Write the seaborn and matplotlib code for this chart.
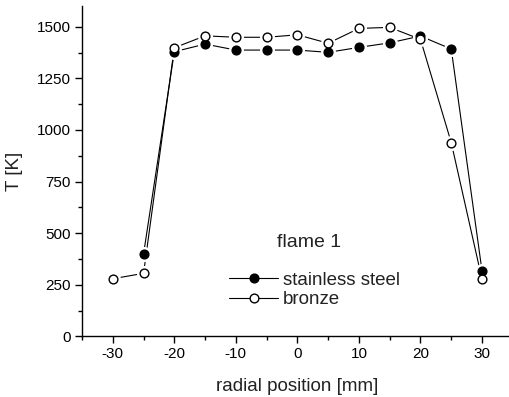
import numpy as np
import pandas as pd
import matplotlib
matplotlib.use("Agg")
import matplotlib.pyplot as plt
from matplotlib.lines import Line2D
from matplotlib.ticker import MultipleLocator
import seaborn as sns

# Radial temperature profiles, flame 1
steel_pos = [-25, -20, -15, -10, -5, 0, 5, 10, 15, 20, 25, 30]
steel_T = [399, 1379, 1416, 1387, 1387, 1387, 1376, 1400, 1422, 1455, 1392, 316]
bronze_pos = [-30, -25, -20, -15, -10, -5, 0, 5, 10, 15, 20, 25, 30]
bronze_T = [279, 305, 1398, 1456, 1449, 1449, 1461, 1420, 1492, 1497, 1439, 938, 276]
series_names = ["stainless steel", "bronze"]
x_ticks = [-30, -20, -10, 0, 10, 20, 30]
y_ticks = [0, 250, 500, 750, 1000, 1250, 1500]

sns.set_theme(style="ticks")
plt.rcParams["font.family"] = ["Liberation Sans", "DejaVu Sans"]
plt.rcParams["axes.unicode_minus"] = False

steel = pd.DataFrame({"x": steel_pos, "T": steel_T})
bronze = pd.DataFrame({"x": bronze_pos, "T": bronze_T})

fig = plt.figure(figsize=(5.10, 3.97), dpi=100)
ax = fig.add_axes([0.1608, 0.1529, 0.8447, 0.8317])

lw = 0.8
ms = 6.3
for df in (steel, bronze):
    sns.lineplot(data=df, x="x", y="T", ax=ax, color="black", lw=lw,
                 sort=False, estimator=None, zorder=2)
# white halos leave small gaps between connecting lines and symbols
for df in (steel, bronze):
    ax.plot(df["x"], df["T"], ls="none", marker="o", ms=ms + 3.5,
            mfc="white", mec="white", zorder=3)
ax.plot(steel["x"], steel["T"], ls="none", marker="o", ms=ms,
        mfc="black", mec="black", mew=1.0, zorder=4)
ax.plot(bronze["x"], bronze["T"], ls="none", marker="o", ms=ms,
        mfc="white", mec="black", mew=1.0, zorder=5)

ax.set_xlim(-35, 35)
ax.set_ylim(0, 1600)
ax.set_xticks(x_ticks)
ax.set_yticks(y_ticks)
ax.xaxis.set_minor_locator(MultipleLocator(5))
ax.yaxis.set_minor_locator(MultipleLocator(125))
ax.tick_params(axis="both", which="major", direction="out", length=5,
               width=1.0, labelsize=11, colors="black", pad=3)
ax.tick_params(axis="both", which="minor", direction="out", length=3,
               width=1.0, colors="black")
for side in ("top", "right"):
    ax.spines[side].set_visible(False)
for side in ("left", "bottom"):
    ax.spines[side].set_color("black")
    ax.spines[side].set_linewidth(1.0)

ax.set_xlabel("radial position [mm]", fontsize=13.5, color="#222222", labelpad=12)
ax.set_ylabel("T [K]", fontsize=13.5, color="#222222", labelpad=10)

ax.text(0.453, 0.285, "flame 1", transform=ax.transAxes, fontsize=14,
        ha="left", va="center", color="#222222")
handles = [
    Line2D([], [], color="black", lw=lw, marker="o", ms=ms, mfc="black", mec="black"),
    Line2D([], [], color="black", lw=lw, marker="o", ms=ms, mfc="white", mec="black"),
]
leg = ax.legend(handles, series_names, loc="upper left", bbox_to_anchor=(0.32, 0.225),
                frameon=False, fontsize=13.5, handlelength=2.6, handletextpad=0.25,
                labelspacing=0.15, borderpad=0)
for t in leg.get_texts():
    t.set_color("#222222")

fig.savefig("out.png", dpi=100, facecolor="white")
